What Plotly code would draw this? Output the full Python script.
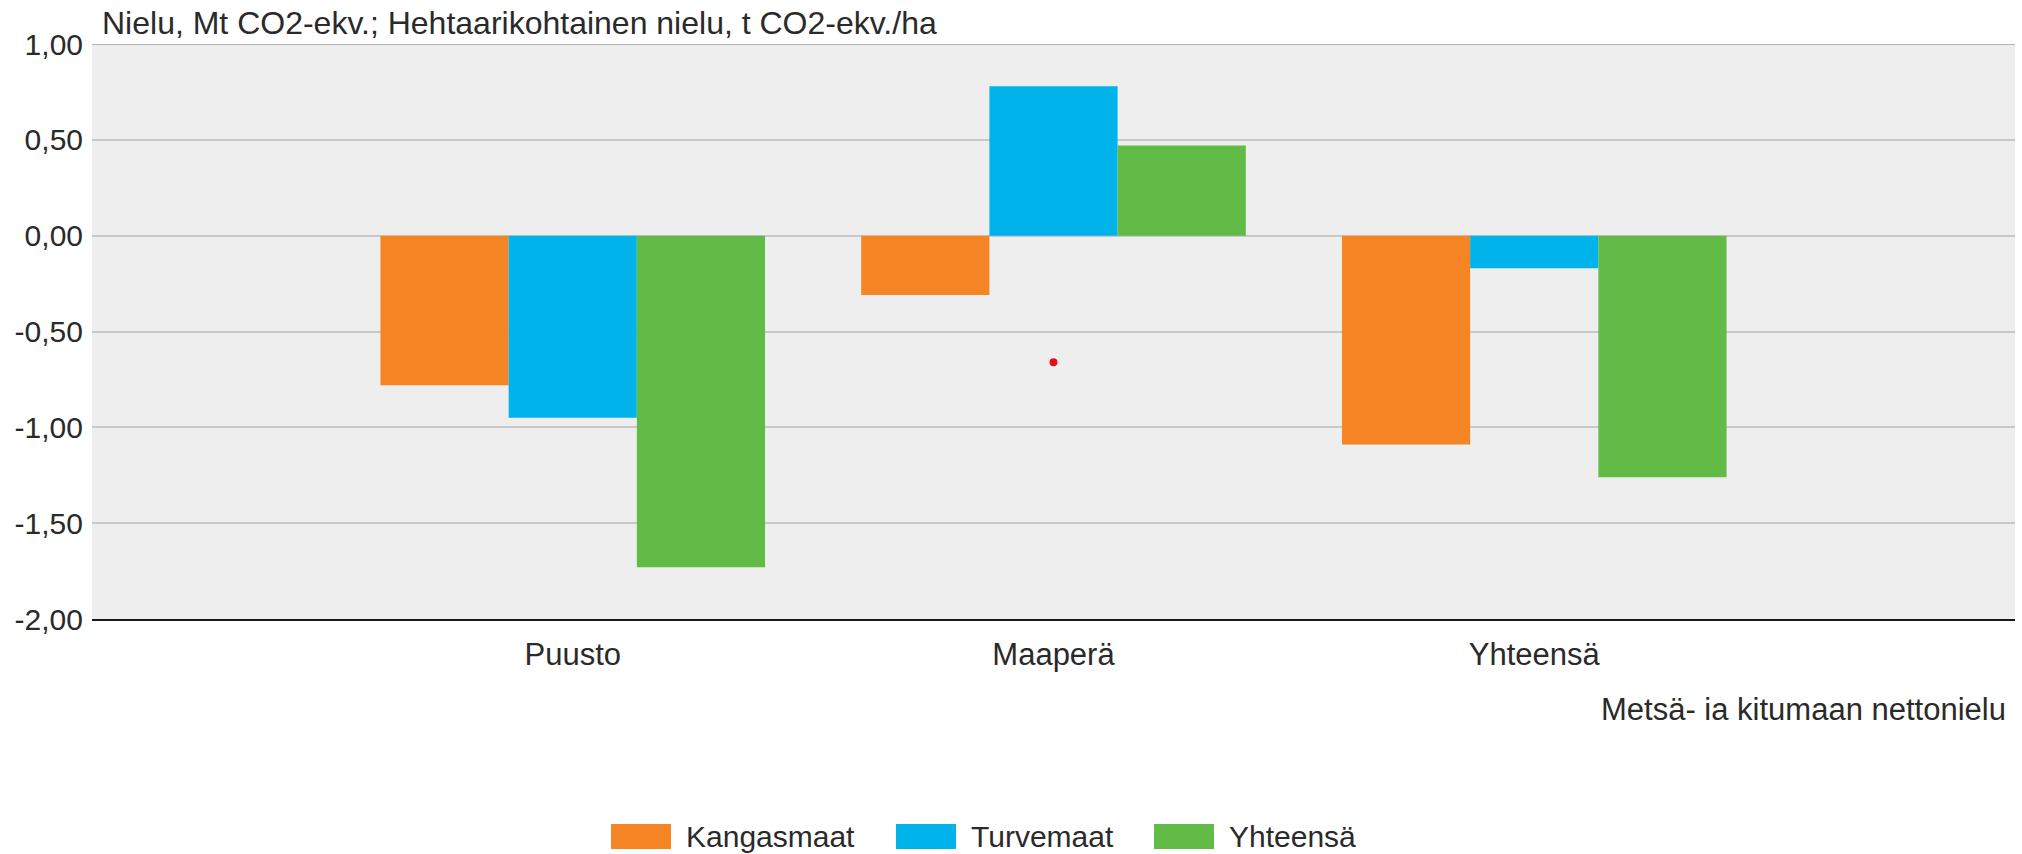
import plotly.graph_objects as go

# ---- data ----
categories = ["Puusto", "Maaperä", "Yhteensä"]
series_names = ["Kangasmaat", "Turvemaat", "Yhteensä"]
kangasmaat = [-0.78, -0.31, -1.09]
turvemaat = [-0.95, 0.78, -0.17]
yhteensa = [-1.73, 0.47, -1.26]
series_values = [kangasmaat, turvemaat, yhteensa]
series_colors = ["#F48424", "#00B4EB", "#62BB47"]
marker_x = ["Maaperä"]
marker_y = [-0.66]
y_tick_vals = [1.0, 0.5, 0.0, -0.5, -1.0, -1.5, -2.0]
y_tick_text = ["1,00", "0,50", "0,00", "-0,50", "-1,00", "-1,50", "-2,00"]
title_text = "Nielu, Mt CO2-ekv.; Hehtaarikohtainen nielu, t CO2-ekv./ha"
x_title_text = "Metsä- ia kitumaan nettonielu"

# ---- layout constants ----
W, H = 2022, 854
L, R, T, B = 92, 7, 44, 235
PW, PH = W - L - R, H - T - B
FONT = "Liberation Sans, Arial, sans-serif"
TXT = "#2a2a2a"


def px_x(px):
    return (px - L) / PW


def px_y(py):
    return (H - B - py) / PH


fig = go.Figure()
for name, vals, col in zip(series_names, series_values, series_colors):
    fig.add_trace(go.Bar(x=categories, y=vals, name=name, marker_color=col,
                         marker_line_width=0, showlegend=False))

fig.add_trace(go.Scatter(x=marker_x, y=marker_y, mode="markers",
                         marker=dict(color="#E3101A", size=8),
                         showlegend=False, hoverinfo="skip"))

shapes = [dict(type="line", xref="paper", yref="y", x0=0, x1=1, y0=1, y1=1,
               line=dict(color="#B4B4B4", width=2), layer="above")]
annotations = [
    dict(text=title_text, xref="paper", yref="paper", x=px_x(100), y=px_y(23),
         xanchor="left", yanchor="middle", showarrow=False,
         font=dict(family=FONT, size=32, color=TXT)),
    dict(text=x_title_text, xref="paper", yref="paper", x=px_x(2008), y=px_y(709),
         xanchor="right", yanchor="middle", showarrow=False,
         font=dict(family=FONT, size=31, color=TXT)),
]

# custom legend (wide swatches like the reference)
legend_box_x = [611, 896, 1154]
box_w, box_top, box_bot = 60, 824, 849
for name, col, bx in zip(series_names, series_colors, legend_box_x):
    shapes.append(dict(type="rect", xref="paper", yref="paper",
                       x0=px_x(bx), x1=px_x(bx + box_w),
                       y0=px_y(box_bot), y1=px_y(box_top),
                       fillcolor=col, line=dict(width=0)))
    annotations.append(dict(text=name, xref="paper", yref="paper",
                            x=px_x(bx + box_w + 13), y=px_y((box_top + box_bot) / 2),
                            xanchor="left", yanchor="middle", showarrow=False,
                            font=dict(family=FONT, size=30, color=TXT)))

fig.update_layout(
    width=W, height=H,
    margin=dict(l=L, r=R, t=T, b=B, autoexpand=False),
    paper_bgcolor="white", plot_bgcolor="#EEEEEE",
    barmode="group", bargap=0.2, bargroupgap=0,
    font=dict(family=FONT, size=30, color=TXT),
    shapes=shapes, annotations=annotations,
    showlegend=False,
)
fig.update_xaxes(type="category", range=[-1, 3], showgrid=False,
                 showline=True, linecolor="#1a1a1a", linewidth=2,
                 ticks="", ticklabelstandoff=7,
                 tickfont=dict(family=FONT, size=31, color=TXT), fixedrange=True)
fig.update_yaxes(range=[-2, 1], tickvals=y_tick_vals, ticktext=y_tick_text,
                 showgrid=True, gridcolor="#C8C8C8", gridwidth=2,
                 zeroline=False, showline=False, ticks="", ticklabelstandoff=8,
                 tickfont=dict(family=FONT, size=30, color=TXT), fixedrange=True)

fig.write_html(
    "out.html",
    config={"displayModeBar": False},
    post_script="document.body.style.margin='0';document.body.style.overflow='hidden';",
)
